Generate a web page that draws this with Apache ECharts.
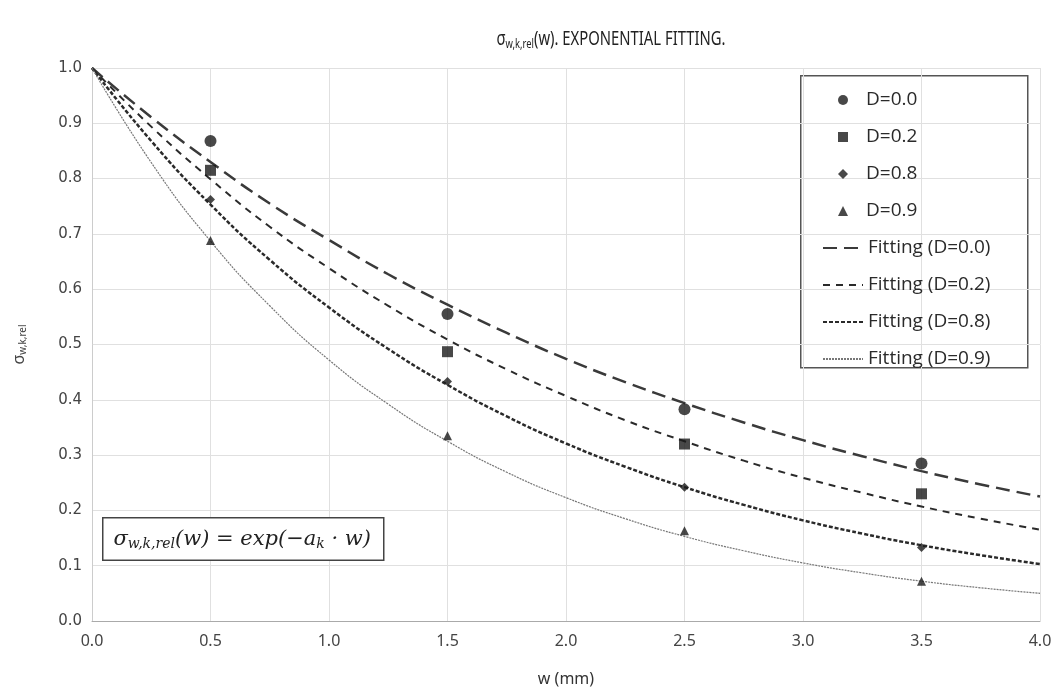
<!DOCTYPE html>
<html><head><meta charset="utf-8">
<script src="https://cdn.jsdelivr.net/npm/echarts@6/dist/echarts.min.js"></script>
<style>html,body{margin:0;padding:0;background:#fff}#c{width:1056px;height:695px}</style>
</head><body><div id="c"></div>
<script>
// measured points
const wPts = [0.5, 1.5, 2.5, 3.5];
const pD00 = [0.868, 0.555, 0.383, 0.285];
const pD02 = [0.815, 0.487, 0.320, 0.230];
const pD08 = [0.762, 0.433, 0.242, 0.133];
const pD09 = [0.688, 0.335, 0.163, 0.072];
// fitting curves
const wFit = [0,0.25,0.5,0.75,1.0,1.25,1.5,1.75,2.0,2.25,2.5,2.75,3.0,3.25,3.5,3.75,4.0];
const fD00 = [1,0.911,0.830,0.755,0.689,0.627,0.572,0.521,0.474,0.432,0.394,0.359,0.327,0.298,0.271,0.247,0.225];
const fD02 = [1,0.894,0.799,0.713,0.638,0.570,0.509,0.455,0.407,0.363,0.325,0.290,0.259,0.232,0.207,0.185,0.165];
const fD08 = [1,0.868,0.753,0.653,0.567,0.492,0.427,0.370,0.321,0.279,0.242,0.210,0.182,0.158,0.137,0.119,0.103];
const fD09 = [1,0.829,0.687,0.570,0.472,0.392,0.325,0.269,0.223,0.185,0.153,0.127,0.105,0.087,0.072,0.060,0.050];
const scatterNames = ['D=0.0','D=0.2','D=0.8','D=0.9'];
const fitNames = ['Fitting (D=0.0)','Fitting (D=0.2)','Fitting (D=0.8)','Fitting (D=0.9)'];

const zip = (xs, ys) => xs.map((x, i) => [x, ys[i]]);
const chart = echarts.init(document.getElementById('c'));
const scat = (name, sym, size, data) => ({
  name, type: 'scatter', symbol: sym, symbolSize: size, data: zip(wPts, data),
  itemStyle: { color: '#1a1a1a' }, z: 5
});
const fit = (name, data, width, dash, color) => ({
  name, type: 'line', data: zip(wFit, data), smooth: true, showSymbol: false, symbol: 'none',
  lineStyle: { color, width, type: dash }, itemStyle: { color }, z: 3
});
const legFont = { fontFamily: 'Open Sans', fontSize: 19, color: '#2a2a2a', lineHeight: 20 };
chart.setOption({
  animation: false,
  grid: { left: 92, right: 16, top: 68, bottom: 74 },
  xAxis: {
    type: 'value', min: 0, max: 4, interval: 0.5,
    name: 'w (mm)', nameLocation: 'middle', nameGap: 50,
    nameTextStyle: { fontFamily: 'Noto Sans', fontSize: 16, color: '#333' },
    axisLine: { show: true, lineStyle: { color: '#aaa' } },
    axisTick: { show: false },
    axisLabel: { formatter: v => v.toFixed(1), fontFamily: 'Noto Sans', fontSize: 16, color: '#444', margin: 12 },
    splitLine: { show: true, lineStyle: { color: '#e0e0e0' } }
  },
  yAxis: {
    type: 'value', min: 0, max: 1, interval: 0.1,
    name: 'σ{sub|w,k,rel}', nameLocation: 'middle', nameGap: 64, nameRotate: 90,
    nameTextStyle: { fontFamily: 'Noto Sans', fontSize: 16, color: '#444',
      rich: { sub: { fontSize: 10, verticalAlign: 'bottom', padding: [7,0,0,0], color: '#444' } } },
    axisLine: { show: true, lineStyle: { color: '#ccc' } },
    axisTick: { show: false },
    axisLabel: { formatter: v => v.toFixed(1), fontFamily: 'DejaVu Sans', fontSize: 15, color: '#444', margin: 10 },
    splitLine: { show: true, lineStyle: { color: '#e0e0e0' } }
  },
  legend: [{
    orient: 'vertical', left: 838, top: 90, padding: 0,
    itemWidth: 10, itemHeight: 10, itemGap: 17,
    textStyle: Object.assign({ padding: [0, 0, 0, 13] }, legFont),
    data: scatterNames
  }, {
    orient: 'vertical', left: 822, top: 238, padding: 0,
    itemWidth: 40, itemHeight: 10, itemGap: 17,
    textStyle: legFont,
    data: fitNames.map(n => ({ name: n, itemStyle: { opacity: 0 } }))
  }],
  graphic: [{
    type: 'rect', left: 800, top: 75, z: 0,
    shape: { width: 227, height: 292 },
    style: { fill: '#fff', stroke: '#555', lineWidth: 1.5 }
  }, {
    type: 'text', x: 611, y: 40, z: 10,
    scaleX: 0.78,
    style: {
      text: 'σ{sub|w,k,rel}(w). EXPONENTIAL FITTING.',
      align: 'center', verticalAlign: 'middle',
      fill: '#222', font: '19px Noto Sans',
      rich: { sub: { fontSize: 12, fontFamily: 'Noto Sans', verticalAlign: 'bottom', padding: [9,0,0,0], fill: '#222' } }
    }
  }, {
    type: 'text', left: 102, top: 517, z: 10,
    style: {
      text: '{i|σ}{s|w,k,rel}{i|(w) = exp(−a}{s|k}{i| · w)}',
      fill: '#222', backgroundColor: '#fff', borderColor: '#444', borderWidth: 1.5,
      padding: [9, 12, 8, 10],
      rich: {
        i: { fontFamily: 'DejaVu Serif', fontStyle: 'italic', fontSize: 21, fill: '#222' },
        s: { fontFamily: 'DejaVu Serif', fontStyle: 'italic', fontSize: 14, fill: '#222', verticalAlign: 'bottom', padding: [10,0,0,0] }
      }
    }
  }],
  series: [
    scat('D=0.0', 'circle', 12, pD00),
    scat('D=0.2', 'rect', 11, pD02),
    scat('D=0.8', 'diamond', 9, pD08),
    scat('D=0.9', 'triangle', 9, pD09),
    fit('Fitting (D=0.0)', fD00, 2.5, [14, 7], '#3a3a3a'),
    fit('Fitting (D=0.2)', fD02, 2, [7, 6], '#2a2a2a'),
    fit('Fitting (D=0.8)', fD08, 2.5, [4, 2], '#2a2a2a'),
    fit('Fitting (D=0.9)', fD09, 1.2, [2, 1], '#777')
  ]
});
</script></body></html>
